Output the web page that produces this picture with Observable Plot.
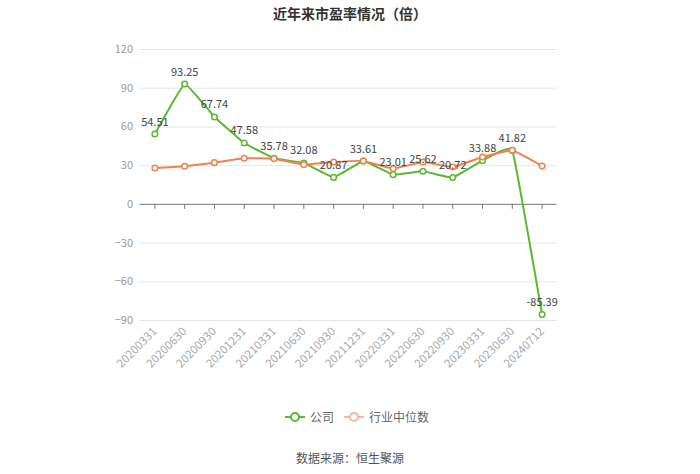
<!DOCTYPE html>
<html>
<head>
<meta charset="utf-8">
<script src="https://cdn.jsdelivr.net/npm/d3@7"></script>
<script src="https://cdn.jsdelivr.net/npm/@observablehq/plot@0.6"></script>
<style>
  body { margin: 0; background: #fff; font-family: "Noto Sans CJK SC", "Noto Sans", sans-serif; width: 700px; }
  #title { height: 30px; line-height: 26px; text-align: center; font-size: 14px; font-weight: bold; color: #333; }
  #chart { height: 360px; }
  #legend { margin-top: 17px; padding-left: 14px; height: 20px; line-height: 20px; text-align: center; font-size: 12px; color: #666; display: flex; justify-content: center; align-items: center; gap: 10px; }
  .item { display: inline-flex; align-items: center; gap: 5px; }
  #source { margin-top: 21px; height: 20px; line-height: 20px; text-align: center; font-size: 12px; color: #555; }
</style>
</head>
<body>
<div id="title">近年来市盈率情况（倍）</div>
<div id="chart"></div>
<div id="legend"></div>
<div id="source">数据来源：恒生聚源</div>
<script>
const categories = ["20200331","20200630","20200930","20201231","20210331","20210630","20210930","20211231","20220331","20220630","20220930","20230331","20230630","20240712"];
const companyPE = [54.51, 93.25, 67.74, 47.58, 35.78, 32.08, 20.87, 33.61, 23.01, 25.62, 20.72, 33.88, 41.82, -85.39];
const industryPE = [28.2, 29.5, 32.3, 35.7, 35.4, 30.8, 32.8, 33.6, 27.7, 32.8, 28.9, 36.7, 41.9, 29.7];
const yTicks = [-90, -60, -30, 0, 30, 60, 90, 120];
const seriesNames = ["公司", "行业中位数"];

const green = "#5cb82e";
const orange = "#f08150";

const company = categories.map((c, i) => ({cat: c, v: companyPE[i]}));
const industry = categories.map((c, i) => ({cat: c, v: industryPE[i]}));

const chart = Plot.plot({
  width: 700,
  height: 360,
  marginLeft: 139.5,
  marginRight: 143.5,
  marginTop: 19,
  marginBottom: 70,
  style: { fontFamily: "'Noto Sans CJK SC', sans-serif", background: "#fff" },
  x: { type: "point", domain: categories, padding: 0.5, round: false },
  y: { domain: [-90, 120], ticks: yTicks },
  marks: [
    Plot.gridY(yTicks.filter(t => t !== 0), { stroke: "#e6e6e6", strokeOpacity: 1 }),
    Plot.axisY(yTicks, { tickSize: 0, tickPadding: 7, fill: "#999", fontSize: 11, label: null }),
    Plot.ruleY([0], { stroke: "#777", strokeWidth: 1 }),
    Plot.ruleX(categories, { x: d => d, y1: 0, y2: 0, insetBottom: -5, stroke: "#777" }),
    Plot.axisX({ anchor: "bottom", tickSize: 0, tickPadding: 9, tickRotate: -45, fill: "#aaa", fontSize: 11.5, label: null }),
    Plot.line(company, { x: "cat", y: "v", stroke: green, strokeWidth: 2, curve: "cardinal", tension: 0.75 }),
    Plot.dot(company, { x: "cat", y: "v", r: 2.8, stroke: green, strokeWidth: 1.5, fill: "#fff" }),
    Plot.line(industry, { x: "cat", y: "v", stroke: orange, strokeWidth: 2, curve: "cardinal", tension: 0.75 }),
    Plot.dot(industry, { x: "cat", y: "v", r: 2.8, stroke: orange, strokeWidth: 1.5, fill: "#fff" }),
    Plot.text(company, { x: "cat", y: "v", text: d => d.v.toFixed(2), dy: -12, fill: "#444", fontSize: 11 })
  ]
});
document.getElementById("chart").appendChild(chart);

const legendColors = [green, "#f5b49c"];
const legend = document.getElementById("legend");
seriesNames.forEach((name, i) => {
  const item = document.createElement("span");
  item.className = "item";
  item.innerHTML = `<svg width="20" height="12"><line x1="0" y1="6" x2="20" y2="6" stroke="${legendColors[i]}" stroke-width="2"/><circle cx="10" cy="6" r="4" fill="#fff" stroke="${legendColors[i]}" stroke-width="2"/></svg><span>${name}</span>`;
  legend.appendChild(item);
});
</script>
</body>
</html>
